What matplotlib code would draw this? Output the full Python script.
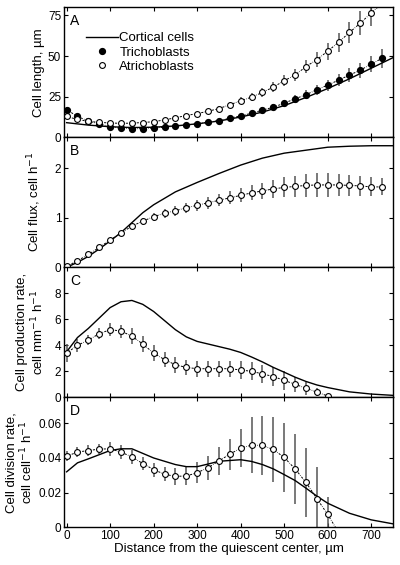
import numpy as np
import matplotlib.pyplot as plt
from matplotlib.ticker import FuncFormatter

plt.rcParams['font.family'] = ['Liberation Sans', 'DejaVu Sans']

# ---- data ----
# panel A: cell length (um)
dist_a = [0, 25, 50, 75, 100, 125, 150, 175, 200, 225, 250, 275, 300, 325, 350,
          375, 400, 425, 450, 475, 500, 525, 550, 575, 600, 625, 650, 675, 700, 725]
tricho_len = [17, 12.8, 10, 8.2, 6.6, 5.5, 5.3, 5.3, 5.8, 6.2, 6.8, 7.5, 8.3, 9.3, 10.3,
              11.7, 13.2, 14.8, 16.7, 18.5, 21, 23.7, 26.2, 29.3, 32.1, 35.2, 38.3, 41.3, 45.1, 48.6]
tricho_err = [1.5, 1, 0.8, 0.6, 0.6, 0.5, 0.5, 0.5, 0.6, 0.6, 0.7, 0.8, 0.9, 1, 1.1,
              1.2, 1.4, 1.5, 1.7, 1.9, 2.1, 2.4, 2.7, 3, 3.4, 3.8, 4.2, 4.7, 5.2, 6]
dist_a_open = [0, 25, 50, 75, 100, 125, 150, 175, 200, 225, 250, 275, 300, 325, 350,
               375, 400, 425, 450, 475, 500, 525, 550, 575, 600, 625, 650, 675, 700]
atricho_len = [12.8, 11, 9.8, 9.2, 8.8, 8.6, 8.7, 9.1, 9.6, 10.7, 12, 13.4, 14.6, 16, 17.7,
               20, 22.5, 24.7, 27.6, 30.9, 34.8, 38.3, 43.5, 47.8, 53, 58.5, 64.5, 70.3, 76.5]
atricho_err = [1.2, 0.9, 0.7, 0.6, 0.6, 0.6, 0.6, 0.6, 0.7, 0.8, 0.9, 1, 1.1, 1.3, 1.5,
               1.7, 2, 2.3, 2.6, 3, 3.4, 3.8, 4.2, 4.6, 5.2, 5.8, 6.4, 7.2, 8]
dist_cort_a = [0, 50, 100, 150, 200, 250, 300, 350, 400, 450, 500, 550, 600, 650, 700, 750]
cort_len = [9, 7.5, 6.5, 6, 6.2, 7, 8.3, 10, 12.5, 15.5, 19.5, 24.5, 30, 36, 42.5, 49]

# panel B: cell flux (cell/h)
dist_b = [0, 25, 50, 75, 100, 125, 150, 175, 200, 225, 250, 275, 300, 325, 350,
          375, 400, 425, 450, 475, 500, 525, 550, 575, 600, 625, 650, 675, 700, 725]
flux = [0.02, 0.13, 0.26, 0.4, 0.55, 0.69, 0.83, 0.93, 1.02, 1.09, 1.14, 1.2, 1.25, 1.3, 1.35,
        1.4, 1.45, 1.5, 1.54, 1.58, 1.61, 1.63, 1.65, 1.66, 1.66, 1.66, 1.65, 1.64, 1.62, 1.62]
flux_err = [0.02, 0.03, 0.03, 0.04, 0.04, 0.05, 0.06, 0.07, 0.08, 0.09, 0.1, 0.1, 0.11, 0.12, 0.12,
            0.13, 0.14, 0.15, 0.16, 0.18, 0.2, 0.22, 0.23, 0.24, 0.24, 0.23, 0.22, 0.2, 0.19, 0.17]
dist_cort_b = [0, 25, 50, 75, 100, 125, 150, 175, 200, 250, 300, 350, 400, 450, 500, 550, 600, 650, 700, 750]
cort_flux = [0, 0.1, 0.22, 0.37, 0.53, 0.7, 0.9, 1.1, 1.26, 1.52, 1.71, 1.89, 2.06, 2.2, 2.3,
             2.36, 2.42, 2.44, 2.45, 2.45]

# panel C: cell production rate (cell/mm/h)
dist_c = [0, 25, 50, 75, 100, 125, 150, 175, 200, 225, 250, 275, 300, 325, 350,
          375, 400, 425, 450, 475, 500, 525, 550, 575, 600]
prod = [3.4, 4.0, 4.4, 4.9, 5.2, 5.1, 4.7, 4.1, 3.4, 2.9, 2.5, 2.3, 2.2, 2.2, 2.2,
        2.2, 2.1, 2.0, 1.8, 1.6, 1.3, 1.0, 0.7, 0.4, 0.1]
prod_err = [0.7, 0.5, 0.4, 0.4, 0.5, 0.5, 0.6, 0.6, 0.6, 0.6, 0.6, 0.6, 0.6, 0.6, 0.6,
            0.6, 0.7, 0.7, 0.7, 0.7, 0.7, 0.6, 0.5, 0.3, 0.15]
dist_cort_c = [0, 25, 50, 75, 100, 125, 150, 175, 200, 225, 250, 275, 300, 325, 350, 375,
               400, 425, 450, 475, 500, 525, 550, 575, 600, 650, 700, 750]
cort_prod = [3.5, 4.6, 5.3, 6.1, 6.9, 7.35, 7.45, 7.15, 6.6, 5.9, 5.2, 4.65, 4.3, 4.1, 3.9, 3.7,
             3.45, 3.1, 2.72, 2.3, 1.93, 1.55, 1.22, 0.95, 0.75, 0.42, 0.25, 0.15]

# panel D: cell division rate (cell/cell/h)
dist_d = [0, 25, 50, 75, 100, 125, 150, 175, 200, 225, 250, 275, 300, 325, 350,
          375, 400, 425, 450, 475, 500, 525, 550, 575, 600, 625]
divr = [0.041, 0.0434, 0.0443, 0.0451, 0.0453, 0.0434, 0.0406, 0.0368, 0.0333, 0.0306, 0.0294,
        0.0296, 0.0315, 0.0344, 0.0383, 0.0422, 0.0457, 0.0474, 0.0472, 0.0449, 0.0403, 0.0337,
        0.0259, 0.0166, 0.0074, -0.003]
div_err = [0.003, 0.003, 0.003, 0.003, 0.004, 0.004, 0.004, 0.004, 0.004, 0.004, 0.005,
           0.005, 0.006, 0.007, 0.008, 0.009, 0.011, 0.016, 0.017, 0.019, 0.02, 0.02,
           0.02, 0.018, 0.01, 0]
dist_cort_d = [0, 25, 50, 100, 125, 150, 200, 250, 275, 300, 325, 350, 400, 425, 450, 475,
               500, 525, 550, 575, 600, 650, 700, 750]
cort_div = [0.032, 0.0372, 0.0395, 0.0443, 0.0453, 0.0453, 0.040, 0.0362, 0.035, 0.035, 0.0365,
            0.0381, 0.039, 0.038, 0.0362, 0.0337, 0.0304, 0.027, 0.0226, 0.018, 0.0139, 0.0081,
            0.0043, 0.002]

# ---- figure ----
fig = plt.figure(figsize=(4.0, 5.65), dpi=100)
left, width = 0.16, 0.8225
h = 0.2301
bottoms = [0.0667 + 3 * h, 0.0667 + 2 * h, 0.0667 + h, 0.0667]
axes = [fig.add_axes([left, b, width, h]) for b in bottoms]

dash = (0, (2.2, 1.4, 0.6, 1.4))
ms = 4.2


def open_series(ax, x, y, err, show=None):
    n = len(y) if show is None else show
    ax.errorbar(x[:n], y[:n], yerr=err[:n], fmt='none', ecolor='#555555',
                elinewidth=1.1, capsize=0, zorder=2)
    ax.plot(x, y, linestyle=dash, color='black', lw=0.7, zorder=3)
    ax.plot(x[:n], y[:n], 'o', mfc='white', mec='black', mew=0.8, ms=ms, zorder=4)


# A
ax = axes[0]
ax.plot(dist_cort_a, cort_len, color='black', lw=1.0, label='Cortical cells', zorder=3)
ax.errorbar(dist_a, tricho_len, yerr=tricho_err, fmt='none', ecolor='#555555',
            elinewidth=1.1, capsize=0, zorder=2)
ax.plot(dist_a, tricho_len, linestyle=dash, color='black', lw=0.7, zorder=3)
ax.plot(dist_a, tricho_len, 'o', color='black', ms=ms, zorder=4, label='Trichoblasts')
ax.errorbar(dist_a_open, atricho_len, yerr=atricho_err, fmt='none', ecolor='#555555',
            elinewidth=1.1, capsize=0, zorder=2)
ax.plot(dist_a_open + [740], atricho_len + [86], linestyle=dash, color='black', lw=0.7, zorder=3)
ax.plot(dist_a_open, atricho_len, 'o', mfc='white', mec='black', mew=0.8, ms=ms,
        zorder=4, label='Atrichoblasts')
ax.set_ylim(0, 80)
ax.set_yticks([0, 25, 50, 75])
ax.set_ylabel('Cell length, µm', fontsize=9.5, labelpad=2)
ax.legend(loc='upper left', bbox_to_anchor=(0.04, 0.88), frameon=False, fontsize=9.5,
          handlelength=2.4, handletextpad=0.1, labelspacing=0.15, borderpad=0.2)

# B
ax = axes[1]
ax.plot(dist_cort_b, cort_flux, color='black', lw=1.0, zorder=3)
open_series(ax, dist_b, flux, flux_err)
ax.set_ylim(0, 2.62)
ax.set_yticks([0, 1, 2])
ax.set_ylabel('Cell flux, cell h$^{-1}$', fontsize=9.5, labelpad=8)

# C
ax = axes[2]
ax.plot(dist_cort_c, cort_prod, color='black', lw=1.0, zorder=3)
open_series(ax, dist_c, prod, prod_err)
ax.set_ylim(0, 10)
ax.set_yticks([0, 2, 4, 6, 8])
ax.set_ylabel('Cell production rate,\ncell mm$^{-1}$ h$^{-1}$', fontsize=9.5, labelpad=6,
              linespacing=1.1)

# D
ax = axes[3]
ax.plot(dist_cort_d, cort_div, color='black', lw=1.0, zorder=3)
open_series(ax, dist_d, divr, div_err, show=25)
ax.set_ylim(0, 0.075)
ax.set_yticks([0, 0.02, 0.04, 0.06])
ax.yaxis.set_major_formatter(FuncFormatter(lambda v, p: '0' if v == 0 else f'{v:.2f}'))
ax.set_ylabel('Cell division rate,\ncell cell$^{-1}$ h$^{-1}$', fontsize=9.5, labelpad=2,
              linespacing=1.1)
ax.set_xlabel('Distance from the quiescent center, µm', fontsize=9.5, labelpad=1)

for ax, letter in zip(axes, 'ABCD'):
    ax.set_xlim(-6, 750)
    ax.set_xticks([0, 100, 200, 300, 400, 500, 600, 700])
    ax.tick_params(direction='in', top=True, right=True, length=3, width=0.8,
                   labelsize=8.5, pad=2)
    if letter != 'D':
        ax.tick_params(labelbottom=False)
    for s in ax.spines.values():
        s.set_linewidth(1.0)
    ax.text(0.018, 0.95, letter, transform=ax.transAxes, fontsize=10, va='top', ha='left')

fig.savefig('out.png', dpi=100)
